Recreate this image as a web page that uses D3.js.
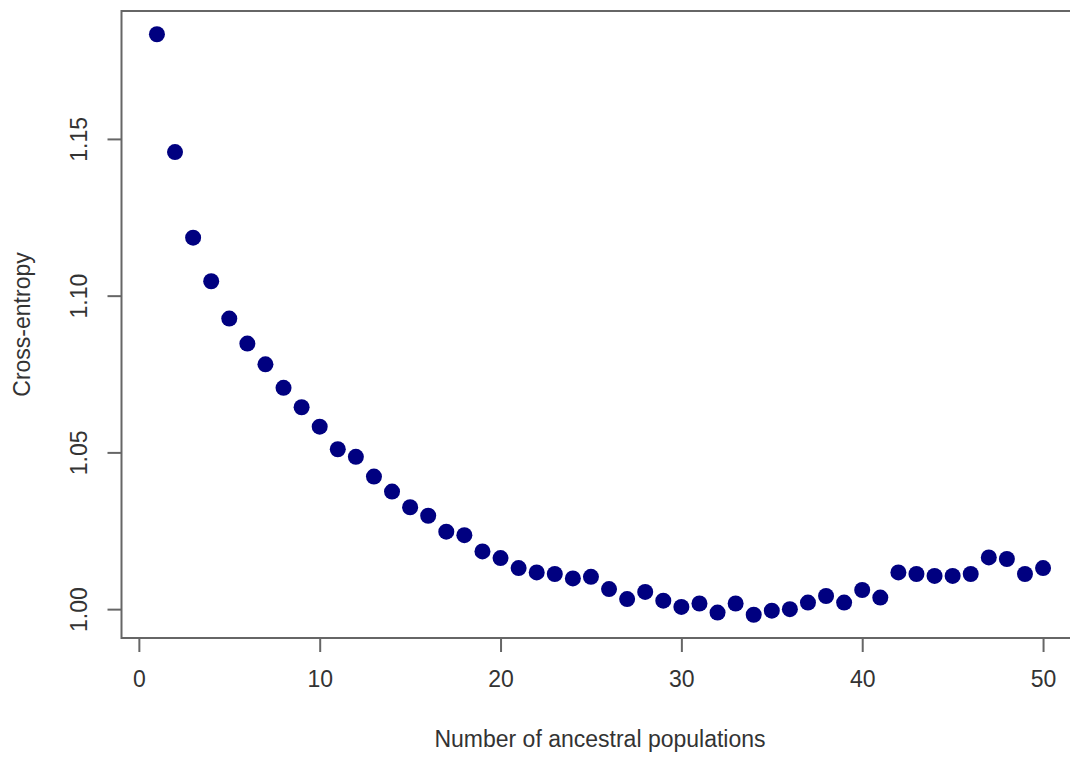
<!DOCTYPE html>
<html>
<head>
	<title></title>
	<script src="https://d3js.org/d3.v7.min.js"></script>
	<style>
		body { margin: 0; background: #fff; }
		text { font-family: "Liberation Sans", Arial, sans-serif; fill: #333; }
	</style>
</head>
<body>
<div id="chart"></div>
<script type="text/javascript">
var populations = d3.range(1, 51);
var crossEntropy = [
	1.1834, 1.1458, 1.1185, 1.1046, 1.0927, 1.0847, 1.0781, 1.0706, 1.0644, 1.0582,
	1.0510, 1.0486, 1.0423, 1.0375, 1.0325, 1.0298, 1.0247, 1.0236, 1.0184, 1.0163,
	1.0131, 1.0117, 1.0112, 1.0098, 1.0103, 1.0064, 1.0032, 1.0055, 1.0027, 1.0007,
	1.0018, 0.9989, 1.0018, 0.9982, 0.9995, 1.0000, 1.0021, 1.0042, 1.0021, 1.0061,
	1.0037, 1.0117, 1.0112, 1.0106, 1.0106, 1.0112, 1.0165, 1.0160, 1.0112, 1.0131
];
var xTicks = [0, 10, 20, 30, 40, 50];
var yTicks = [1.00, 1.05, 1.10, 1.15];

var width = 1070,
	height = 758,
	margin = {top: 11, bottom: 120, left: 121.5, right: -8.5};

// R-style 4% padding on both axes
function pad(ext) {
	var d = (ext[1] - ext[0]) * 0.04;
	return [ext[0] - d, ext[1] + d];
}

var x = d3.scaleLinear()
	.domain(pad(d3.extent(populations)))
	.range([margin.left, width - margin.right]);

var y = d3.scaleLinear()
	.domain(pad(d3.extent(crossEntropy)))
	.range([height - margin.bottom, margin.top]);

var svg = d3.select('#chart')
	.append('svg')
		.attr('width', width)
		.attr('height', height);

// box
svg.append('rect')
	.attr('x', x.range()[0])
	.attr('y', y.range()[1])
	.attr('width', x.range()[1] - x.range()[0])
	.attr('height', y.range()[0] - y.range()[1])
	.attr('fill', 'none')
	.attr('stroke', '#666')
	.attr('stroke-width', 2);

var xAxis = svg.append('g')
	.attr('transform', 'translate(0,' + y.range()[0] + ')')
	.call(d3.axisBottom(x).tickValues(xTicks).tickSize(14).tickPadding(19).tickFormat(d3.format('d')));

var yAxis = svg.append('g')
	.attr('transform', 'translate(' + x.range()[0] + ',0)')
	.call(d3.axisLeft(y).tickValues(yTicks).tickSize(14).tickFormat(d3.format('.2f')));

[xAxis, yAxis].forEach(function(g){
	g.select('.domain').remove();
	g.selectAll('.tick line').attr('stroke', '#666').attr('stroke-width', 2);
	g.selectAll('.tick text').attr('fill', '#333').style('font-size', '23px');
});

yAxis.selectAll('.tick text')
	.attr('x', null).attr('dy', null)
	.attr('text-anchor', 'middle')
	.attr('transform', 'translate(-43,0) rotate(-90)')
	.attr('dy', '0.35em');

svg.append('text')
	.attr('x', (x.range()[0] + x.range()[1]) / 2)
	.attr('y', 747)
	.attr('text-anchor', 'middle')
	.style('font-size', '23px')
	.text('Number of ancestral populations');

svg.append('text')
	.attr('transform', 'translate(30,' + ((y.range()[0] + y.range()[1]) / 2) + ') rotate(-90)')
	.attr('text-anchor', 'middle')
	.style('font-size', '23px')
	.text('Cross-entropy');

svg.selectAll('circle')
	.data(populations)
		.enter()
	.append('circle')
		.attr('cx', function(d){ return x(d); })
		.attr('cy', function(d, i){ return y(crossEntropy[i]); })
		.attr('r', 8)
		.attr('fill', '#000080');
</script>
</body>
</html>
